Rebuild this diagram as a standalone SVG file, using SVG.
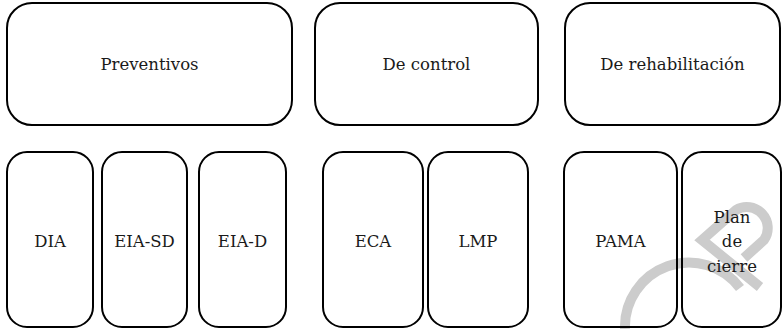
<svg xmlns="http://www.w3.org/2000/svg" width="783" height="329" viewBox="0 0 783 329">
<style>
.box{fill:none;stroke:#000;stroke-width:2}
text{font-family:'DejaVu Serif',serif;font-size:16.5px;fill:#1a1a1a;text-anchor:middle}
.wm{fill:none;stroke:#cccccc;stroke-width:10}
</style>
<rect x="0" y="0" width="783" height="329" fill="#fff"/>
<g id="watermark">
<path class="wm" d="M740,288 A64,64 0 0 0 625,329"/>
<path class="wm" d="M760,287 L702,240 L736,210 A21,21 0 0 1 764,240 L744,258"/>
</g>
<g id="connectors"></g>
<g id="n-preventivos"><rect class="box" x="7" y="3" width="285" height="122" rx="25"/><text x="149.5" y="70">Preventivos</text></g>
<g id="n-control"><rect class="box" x="315" y="3" width="223" height="122" rx="25"/><text x="426.5" y="70">De control</text></g>
<g id="n-rehab"><rect class="box" x="565" y="3" width="215" height="122" rx="25"/><text x="672.5" y="70">De rehabilitación</text></g>
<g id="n-dia"><rect class="box" x="7" y="152" width="86" height="175" rx="20"/><text x="50" y="247">DIA</text></g>
<g id="n-eiasd"><rect class="box" x="102" y="152" width="85" height="175" rx="20"/><text x="144.5" y="247">EIA-SD</text></g>
<g id="n-eiad"><rect class="box" x="199" y="152" width="87" height="175" rx="20"/><text x="242.5" y="247">EIA-D</text></g>
<g id="n-eca"><rect class="box" x="323" y="152" width="100" height="175" rx="20"/><text x="373" y="247">ECA</text></g>
<g id="n-lmp"><rect class="box" x="428" y="152" width="100" height="175" rx="20"/><text x="478" y="247">LMP</text></g>
<g id="n-pama"><rect class="box" x="564" y="152" width="113" height="175" rx="20"/><text x="620.5" y="247">PAMA</text></g>
<g id="n-plan"><rect class="box" x="682" y="152" width="99" height="175" rx="20"/><text x="732" y="223">Plan</text><text x="732" y="247">de</text><text x="732" y="272">cierre</text></g>
</svg>
